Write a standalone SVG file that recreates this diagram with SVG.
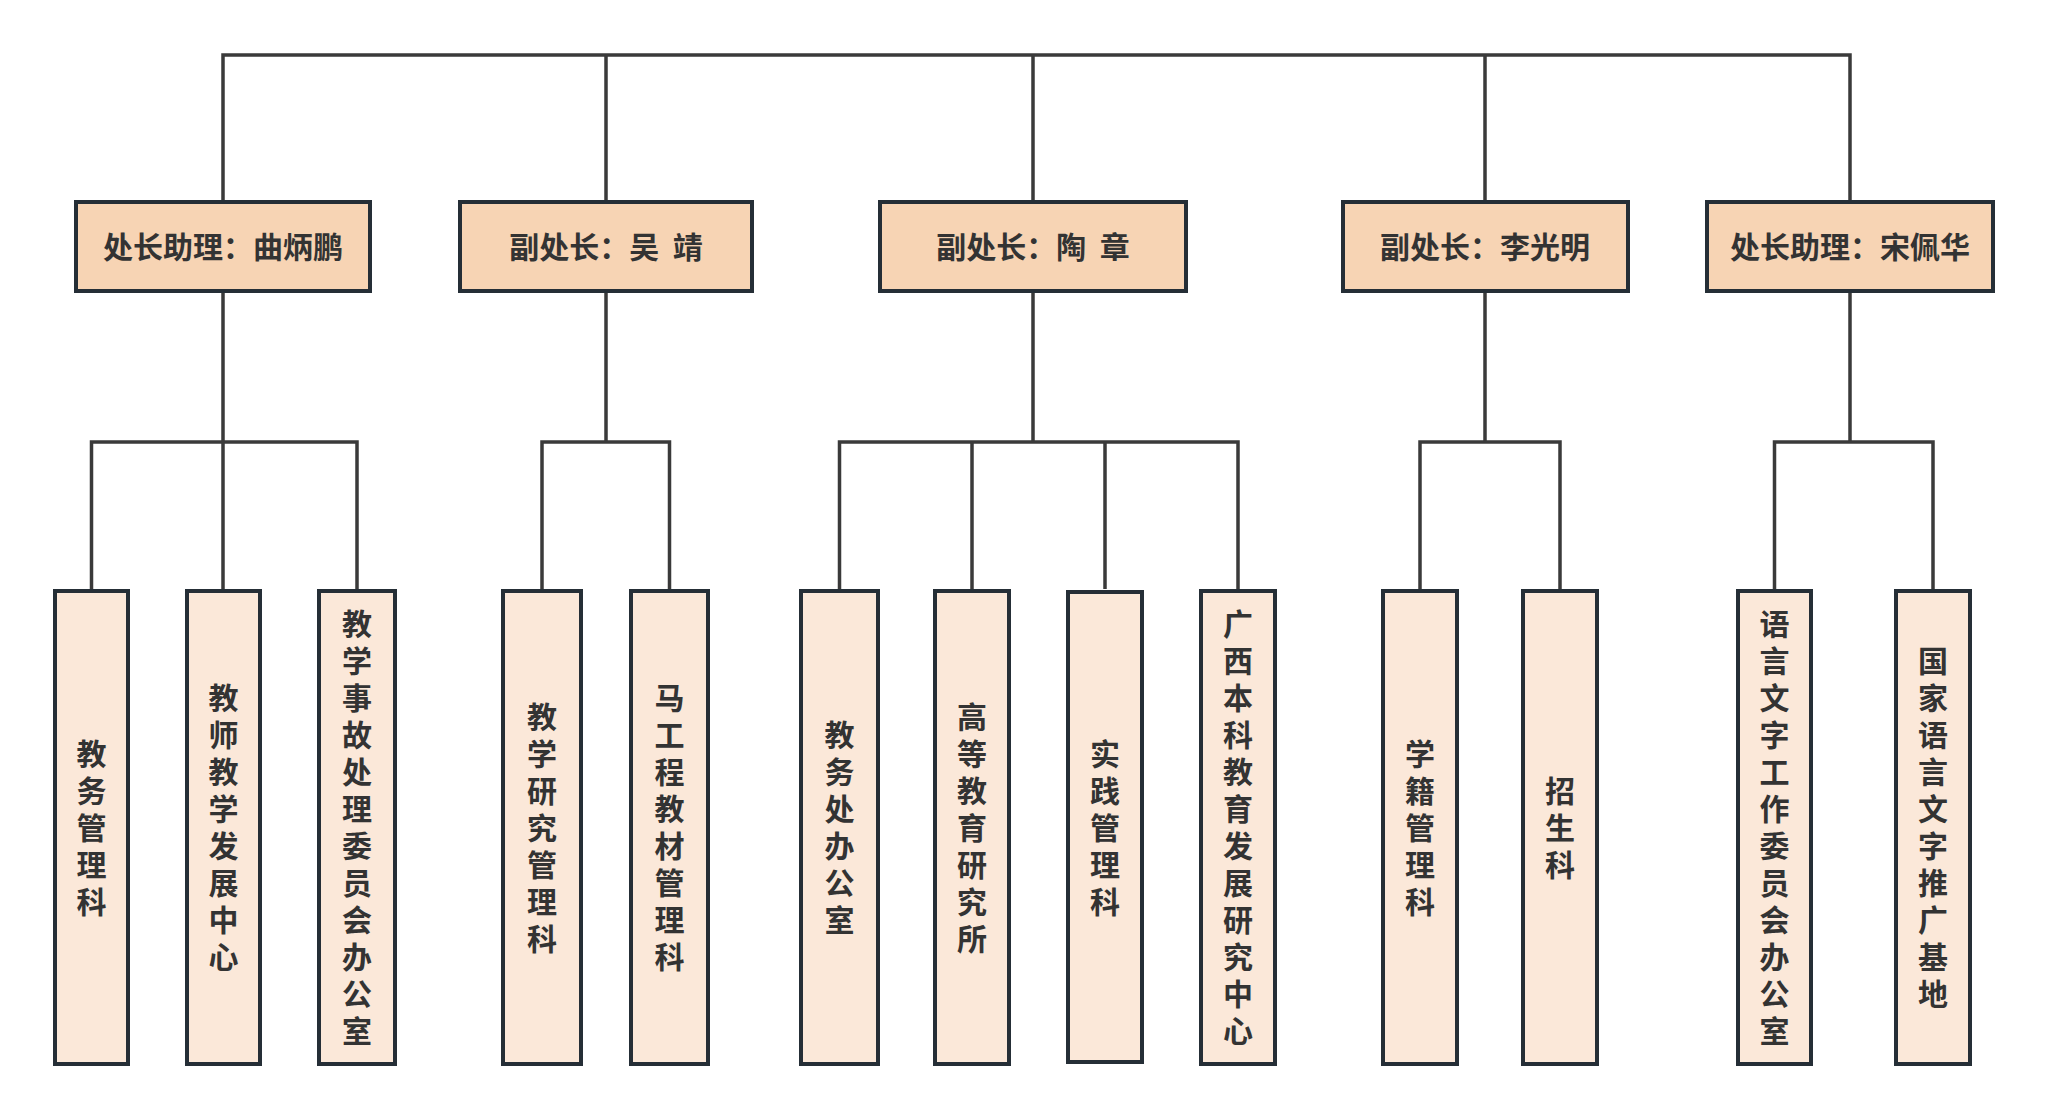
<svg xmlns="http://www.w3.org/2000/svg" width="2048" height="1119" viewBox="0 0 2048 1119">
<style>
.conn{fill:none;stroke:#3a3a3a;stroke-width:3.5;stroke-linejoin:miter;stroke-linecap:butt}
.head rect{fill:#f7d4b4;stroke:#252e36;stroke-width:4}
.leaf rect{fill:#fbe8d9;stroke:#252e36;stroke-width:4}
text{font-family:"Noto Sans CJK SC","Noto Sans",sans-serif;font-weight:bold;font-size:30px;fill:#333333;text-anchor:middle}
.leaf text{writing-mode:vertical-rl;letter-spacing:7px}
</style>
<rect width="2048" height="1119" fill="#ffffff"/>
<g id="connectors">
<path class="conn" d="M223,200 V55 H1850 V200 M606,55 V200 M1033,55 V200 M1485,55 V200"/>
<path class="conn" d="M223,293 V589 M91.5,589 V442 H357 V589"/>
<path class="conn" d="M606,293 V442 M542,589 V442 H669.5 V589"/>
<path class="conn" d="M1033,293 V442 M839.5,589 V442 H1238 V589 M972,442 V589 M1105,442 V589"/>
<path class="conn" d="M1485,293 V442 M1420,589 V442 H1560 V589"/>
<path class="conn" d="M1850,293 V442 M1774.5,589 V442 H1933 V589"/>
</g>
<g id="head1" class="head"><rect x="76" y="202" width="294" height="89"/><text x="223" y="258">处长助理：曲炳鹏</text></g>
<g id="head2" class="head"><rect x="460" y="202" width="292" height="89"/><text x="606" y="258" xml:space="preserve">副处长：吴  靖</text></g>
<g id="head3" class="head"><rect x="880" y="202" width="306" height="89"/><text x="1033" y="258" xml:space="preserve">副处长：陶  章</text></g>
<g id="head4" class="head"><rect x="1343" y="202" width="285" height="89"/><text x="1485" y="258">副处长：李光明</text></g>
<g id="head5" class="head"><rect x="1707" y="202" width="286" height="89"/><text x="1850" y="258">处长助理：宋佩华</text></g>

<g id="leaf1" class="leaf"><rect x="55" y="591" width="73" height="473"/><text x="91.5" y="831">教务管理科</text></g>
<g id="leaf2" class="leaf"><rect x="187" y="591" width="73" height="473"/><text x="223.5" y="831">教师教学发展中心</text></g>
<g id="leaf3" class="leaf"><rect x="319" y="591" width="76" height="473"/><text x="357" y="831">教学事故处理委员会办公室</text></g>
<g id="leaf4" class="leaf"><rect x="503" y="591" width="78" height="473"/><text x="542" y="831">教学研究管理科</text></g>
<g id="leaf5" class="leaf"><rect x="631" y="591" width="77" height="473"/><text x="669.5" y="831">马工程教材管理科</text></g>
<g id="leaf6" class="leaf"><rect x="801" y="591" width="77" height="473"/><text x="839.5" y="831">教务处办公室</text></g>
<g id="leaf7" class="leaf"><rect x="935" y="591" width="74" height="473"/><text x="972" y="831">高等教育研究所</text></g>
<g id="leaf8" class="leaf"><rect x="1068" y="592" width="74" height="470"/><text x="1105" y="831">实践管理科</text></g>
<g id="leaf9" class="leaf"><rect x="1201" y="591" width="74" height="473"/><text x="1238" y="831">广西本科教育发展研究中心</text></g>
<g id="leaf10" class="leaf"><rect x="1383" y="591" width="74" height="473"/><text x="1420" y="831">学籍管理科</text></g>
<g id="leaf11" class="leaf"><rect x="1523" y="591" width="74" height="473"/><text x="1560" y="831">招生科</text></g>
<g id="leaf12" class="leaf"><rect x="1738" y="591" width="73" height="473"/><text x="1774.5" y="831">语言文字工作委员会办公室</text></g>
<g id="leaf13" class="leaf"><rect x="1896" y="591" width="74" height="473"/><text x="1933" y="831">国家语言文字推广基地</text></g>
</svg>
